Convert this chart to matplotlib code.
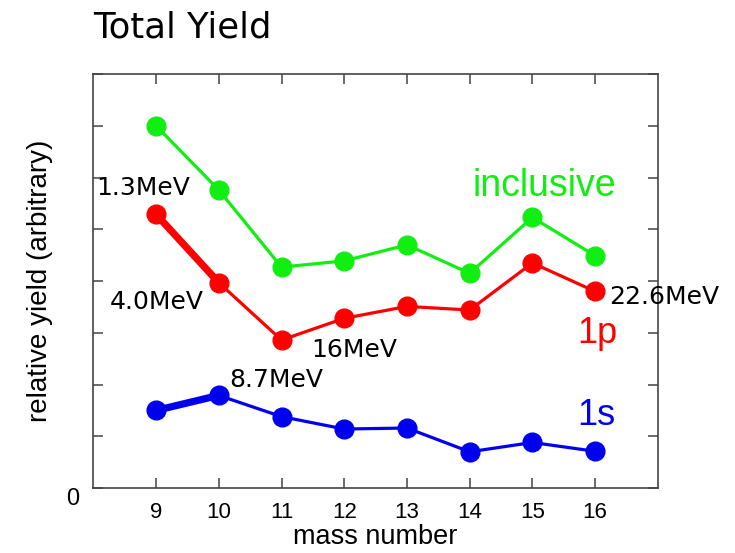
import matplotlib
matplotlib.use('Agg')
import matplotlib.pyplot as plt

# values (arbitrary units, 1 unit = one y tick)
mass = [9, 10, 11, 12, 13, 14, 15, 16]
inclusive = [7.0, 5.76, 4.27, 4.39, 4.70, 4.15, 5.23, 4.49]
yield_1p = [5.29, 3.97, 2.86, 3.28, 3.51, 3.44, 4.35, 3.80]
yield_1s = [1.50, 1.79, 1.38, 1.14, 1.16, 0.70, 0.88, 0.71]

# separation energy labels: (text, x, y)
energy_labels = [
    ('1.3MeV', 8.05, 5.67),
    ('4.0MeV', 8.26, 3.46),
    ('16MeV', 11.48, 2.53),
    ('8.7MeV', 10.17, 1.95),
    ('22.6MeV', 16.23, 3.56),
]

GREEN = '#11ee11'
RED = '#ff0000'
BLUE = '#0000f0'
FRAME = '#444444'

fig = plt.figure(figsize=(7.35, 5.53), dpi=100)
ax = fig.add_axes([0.127, 0.1175, 0.768, 0.7485])


def draw_series(y, color, thick_first=False):
    ax.plot(mass, y, color=color, lw=2.3, zorder=2)
    if thick_first:
        # first segment is drawn heavier in the original
        ax.plot(mass[:2], y[:2], color=color, lw=5.2, zorder=2, solid_capstyle='round')
    ax.plot(mass, y, 'o', color=color, ms=13.5, mec=color, zorder=3)


draw_series(inclusive, GREEN)
draw_series(yield_1p, RED, thick_first=True)
draw_series(yield_1s, BLUE, thick_first=True)

ax.set_xlim(8, 17)
ax.set_ylim(0, 8)
ax.set_xticks(mass)
ax.set_xticklabels([str(m) for m in mass], fontsize=16, family='Liberation Sans')
ax.set_yticks(range(0, 9))
ax.set_yticklabels(['0'] + [''] * 8, fontsize=17, family='Liberation Sans')
for lab in ax.get_yticklabels():
    lab.set_va('top')

ax.tick_params(direction='in', length=7, width=1.1, color=FRAME,
               top=True, right=True)
ax.tick_params(axis='x', pad=10)
ax.tick_params(axis='y', pad=10)
for sp in ax.spines.values():
    sp.set_color(FRAME)
    sp.set_linewidth(1.2)

ax.set_xlabel('mass number', fontsize=19.5, family='Liberation Sans')
ax.xaxis.set_label_coords(0.5, -0.086)
ax.set_ylabel('relative yield (arbitrary)', fontsize=20, family='Liberation Sans')
ax.yaxis.set_label_coords(-0.071, 0.5)

ax.set_title('Total Yield', loc='left', fontsize=25.5, family='DejaVu Sans', pad=26)

for txt, x, y in energy_labels:
    ax.text(x, y, txt, fontsize=18, family='DejaVu Sans', ha='left', va='baseline', zorder=4)

ax.text(14.04, 5.65, 'inclusive', color=GREEN, fontsize=27, family='Liberation Sans',
        ha='left', va='baseline')
ax.text(15.71, 2.80, '1p', color=RED, fontsize=26, family='Liberation Sans',
        ha='left', va='baseline')
ax.text(15.71, 1.22, '1s', color=BLUE, fontsize=26, family='Liberation Sans',
        ha='left', va='baseline')

plt.savefig('out.png', dpi=100)
plt.close()
